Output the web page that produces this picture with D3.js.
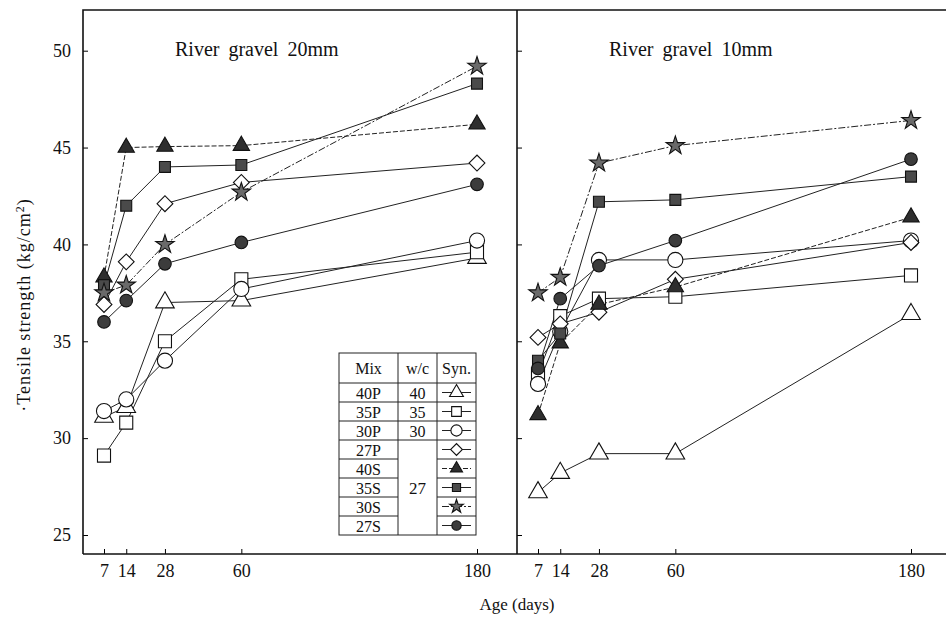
<!DOCTYPE html>
<html>
<head>
<meta charset="utf-8">
<script src="https://cdn.jsdelivr.net/npm/d3@7"></script>
<style>
  body { margin: 0; background: #fff; }
  svg text { font-family: "Liberation Serif", "DejaVu Serif", serif; fill: #111; }
</style>
</head>
<body>
<div id="chart"></div>
<script>
// ages (days) on the x axis
const ages = [7, 14, 28, 60, 180];
const mixes = ["40P", "35P", "30P", "27P", "40S", "35S", "30S", "27S"];
const wcLabels = ["40", "35", "30", "27"];
const yTicks = [25, 30, 35, 40, 45, 50];

// tensile strength, one row per mix (same order as mixes)
const gravel20 = [
  [31.1, 31.6, 37.0, 37.1, 39.3],
  [29.1, 30.8, 35.0, 38.2, 39.6],
  [31.4, 32.0, 34.0, 37.7, 40.2],
  [36.9, 39.1, 42.1, 43.2, 44.2],
  [38.3, 45.0, 45.05, 45.1, 46.2],
  [37.9, 42.0, 44.0, 44.1, 48.3],
  [37.5, 37.9, 40.0, 42.7, 49.2],
  [36.0, 37.1, 39.0, 40.1, 43.1]
];
const gravel10 = [
  [27.2, 28.2, 29.2, 29.2, 36.4],
  [33.3, 36.3, 37.2, 37.3, 38.4],
  [32.8, 35.5, 39.2, 39.2, 40.2],
  [35.2, 35.9, 36.5, 38.2, 40.1],
  [31.2, 34.9, 36.9, 37.8, 41.4],
  [34.0, 35.4, 42.2, 42.3, 43.5],
  [37.5, 38.3, 44.2, 45.1, 46.4],
  [33.6, 37.2, 38.9, 40.2, 44.4]
];

const width = 946, height = 618;
const panelW = 434;
const leftX = 83, topY = 10, bottomY = 554;

// marker styles per mix
const symTypes = [d3.symbolTriangle, d3.symbolSquare, d3.symbolCircle, d3.symbolSquare,
                  d3.symbolTriangle, d3.symbolSquare, d3.symbolStar, d3.symbolCircle];
const symSizes = [150, 170, 180, 125, 115, 120, 105, 125];
const symRot = [0, 0, 0, 45, 0, 0, 0, 0];
const symFill = ["#fff", "#fff", "#fff", "#fff", "#2e2e2e", "#4a4a4a", "#6a6a6a", "#3c3c3c"];
const lineDash = [null, null, null, null, "5,2", null, "7,2,2,2", null];

const svg = d3.select("#chart").append("svg")
  .attr("width", width)
  .attr("height", height);

const y = d3.scaleLinear().domain([25, 50]).range([535, 50.7]);

function drawMarker(g, i, cx, cy, scale) {
  g.append("path")
    .attr("d", d3.symbol().type(symTypes[i]).size(symSizes[i] * scale)())
    .attr("transform", `translate(${cx},${cy}) rotate(${symRot[i]})`)
    .attr("fill", symFill[i])
    .attr("stroke", "#111")
    .attr("stroke-width", 1.1);
}

function drawPanel(p0, values, title, showLabels) {
  const x = d3.scalePow().exponent(0.8).domain([7, 180]).range([p0 + 21, p0 + 394]);
  const g = svg.append("g");

  // y ticks on the panel's left edge (pointing inward)
  const ya = g.append("g")
    .attr("transform", `translate(${p0},0)`)
    .call(d3.axisLeft(y).tickValues(yTicks).tickSizeInner(-5).tickSizeOuter(0).tickPadding(12)
      .tickFormat(showLabels ? d3.format("d") : ""));
  ya.select(".domain").remove();
  ya.selectAll("text").attr("font-size", 18).style("font-family", "Liberation Serif");

  // x ticks
  const xa = g.append("g")
    .attr("transform", `translate(0,${bottomY})`)
    .call(d3.axisBottom(x).tickValues(ages).tickSizeInner(-5).tickSizeOuter(0).tickPadding(10)
      .tickFormat(d3.format("d")));
  xa.select(".domain").remove();
  xa.selectAll("text").attr("font-size", 18).style("font-family", "Liberation Serif");

  g.append("text")
    .attr("x", p0 + 92)
    .attr("y", 56)
    .attr("font-size", 20)
    .attr("word-spacing", 4)
    .text(title);

  const line = d3.line()
    .x((d, j) => x(ages[j]))
    .y(d => y(d));

  values.forEach((vals, i) => {
    g.append("path")
      .datum(vals)
      .attr("d", line)
      .attr("fill", "none")
      .attr("stroke", "#222")
      .attr("stroke-width", 1)
      .attr("stroke-dasharray", lineDash[i]);
  });
  values.forEach((vals, i) => {
    vals.forEach((v, j) => drawMarker(g, i, x(ages[j]), y(v), 1));
  });
}

drawPanel(leftX, gravel20, "River gravel 20mm", true);
drawPanel(leftX + panelW, gravel10, "River gravel 10mm", false);

// frame
svg.append("path")
  .attr("d", `M${leftX},${bottomY}V${topY}H${width}M${leftX + panelW},${topY}V${bottomY}M${leftX},${bottomY}H${width}`)
  .attr("fill", "none")
  .attr("stroke", "#111")
  .attr("stroke-width", 1.6);

// axis titles
svg.append("text")
  .attr("transform", `translate(30,${305}) rotate(-90)`)
  .attr("text-anchor", "middle")
  .attr("font-size", 18)
  .attr("letter-spacing", 1)
  .html("·Tensile strength (kg/cm<tspan dy='-6' font-size='12'>2</tspan><tspan dy='6'>)</tspan>");

svg.append("text")
  .attr("x", leftX + panelW)
  .attr("y", 610)
  .attr("text-anchor", "middle")
  .attr("font-size", 17)
  .text("Age (days)");

// legend table
const tX = [339, 398, 437, 476];
const tTop = 353, headH = 30, rowH = 19;
const tBottom = tTop + headH + rowH * mixes.length;
const leg = svg.append("g");
leg.append("rect")
  .attr("x", tX[0]).attr("y", tTop)
  .attr("width", tX[3] - tX[0]).attr("height", tBottom - tTop)
  .attr("fill", "#fff").attr("stroke", "#222").attr("stroke-width", 1);
[1, 2].forEach(c => leg.append("line")
  .attr("x1", tX[c]).attr("x2", tX[c]).attr("y1", tTop).attr("y2", tBottom)
  .attr("stroke", "#222"));
leg.append("line")
  .attr("x1", tX[0]).attr("x2", tX[3]).attr("y1", tTop + headH).attr("y2", tTop + headH)
  .attr("stroke", "#222");
mixes.forEach((m, i) => {
  const ry = tTop + headH + rowH * i;
  if (i > 0) {
    const full = i <= 3;
    leg.append("line").attr("x1", tX[0]).attr("x2", tX[1]).attr("y1", ry).attr("y2", ry).attr("stroke", "#222");
    leg.append("line").attr("x1", tX[2]).attr("x2", tX[3]).attr("y1", ry).attr("y2", ry).attr("stroke", "#222");
    if (full) leg.append("line").attr("x1", tX[1]).attr("x2", tX[2]).attr("y1", ry).attr("y2", ry).attr("stroke", "#222");
  }
  leg.append("text")
    .attr("x", (tX[0] + tX[1]) / 2).attr("y", ry + rowH / 2 + 6)
    .attr("text-anchor", "middle").attr("font-size", 16)
    .text(m);
  if (i < 3) {
    leg.append("text")
      .attr("x", (tX[1] + tX[2]) / 2).attr("y", ry + rowH / 2 + 6)
      .attr("text-anchor", "middle").attr("font-size", 16)
      .text(wcLabels[i]);
  }
  const cy = ry + rowH / 2, cx = (tX[2] + tX[3]) / 2;
  leg.append("line")
    .attr("x1", tX[2] + 5).attr("x2", tX[3] - 5).attr("y1", cy).attr("y2", cy)
    .attr("stroke", "#222").attr("stroke-dasharray", lineDash[i]);
  drawMarker(leg, i, cx, cy, 0.55);
});
leg.append("text")
  .attr("x", (tX[1] + tX[2]) / 2)
  .attr("y", (tTop + headH + rowH * 3 + tBottom) / 2 + 6)
  .attr("text-anchor", "middle").attr("font-size", 17)
  .text(wcLabels[3]);
["Mix", "w/c", "Syn."].forEach((h, c) => {
  leg.append("text")
    .attr("x", (tX[c] + tX[c + 1]) / 2).attr("y", tTop + headH / 2 + 6)
    .attr("text-anchor", "middle").attr("font-size", 16)
    .text(h);
});
</script>
</body>
</html>
